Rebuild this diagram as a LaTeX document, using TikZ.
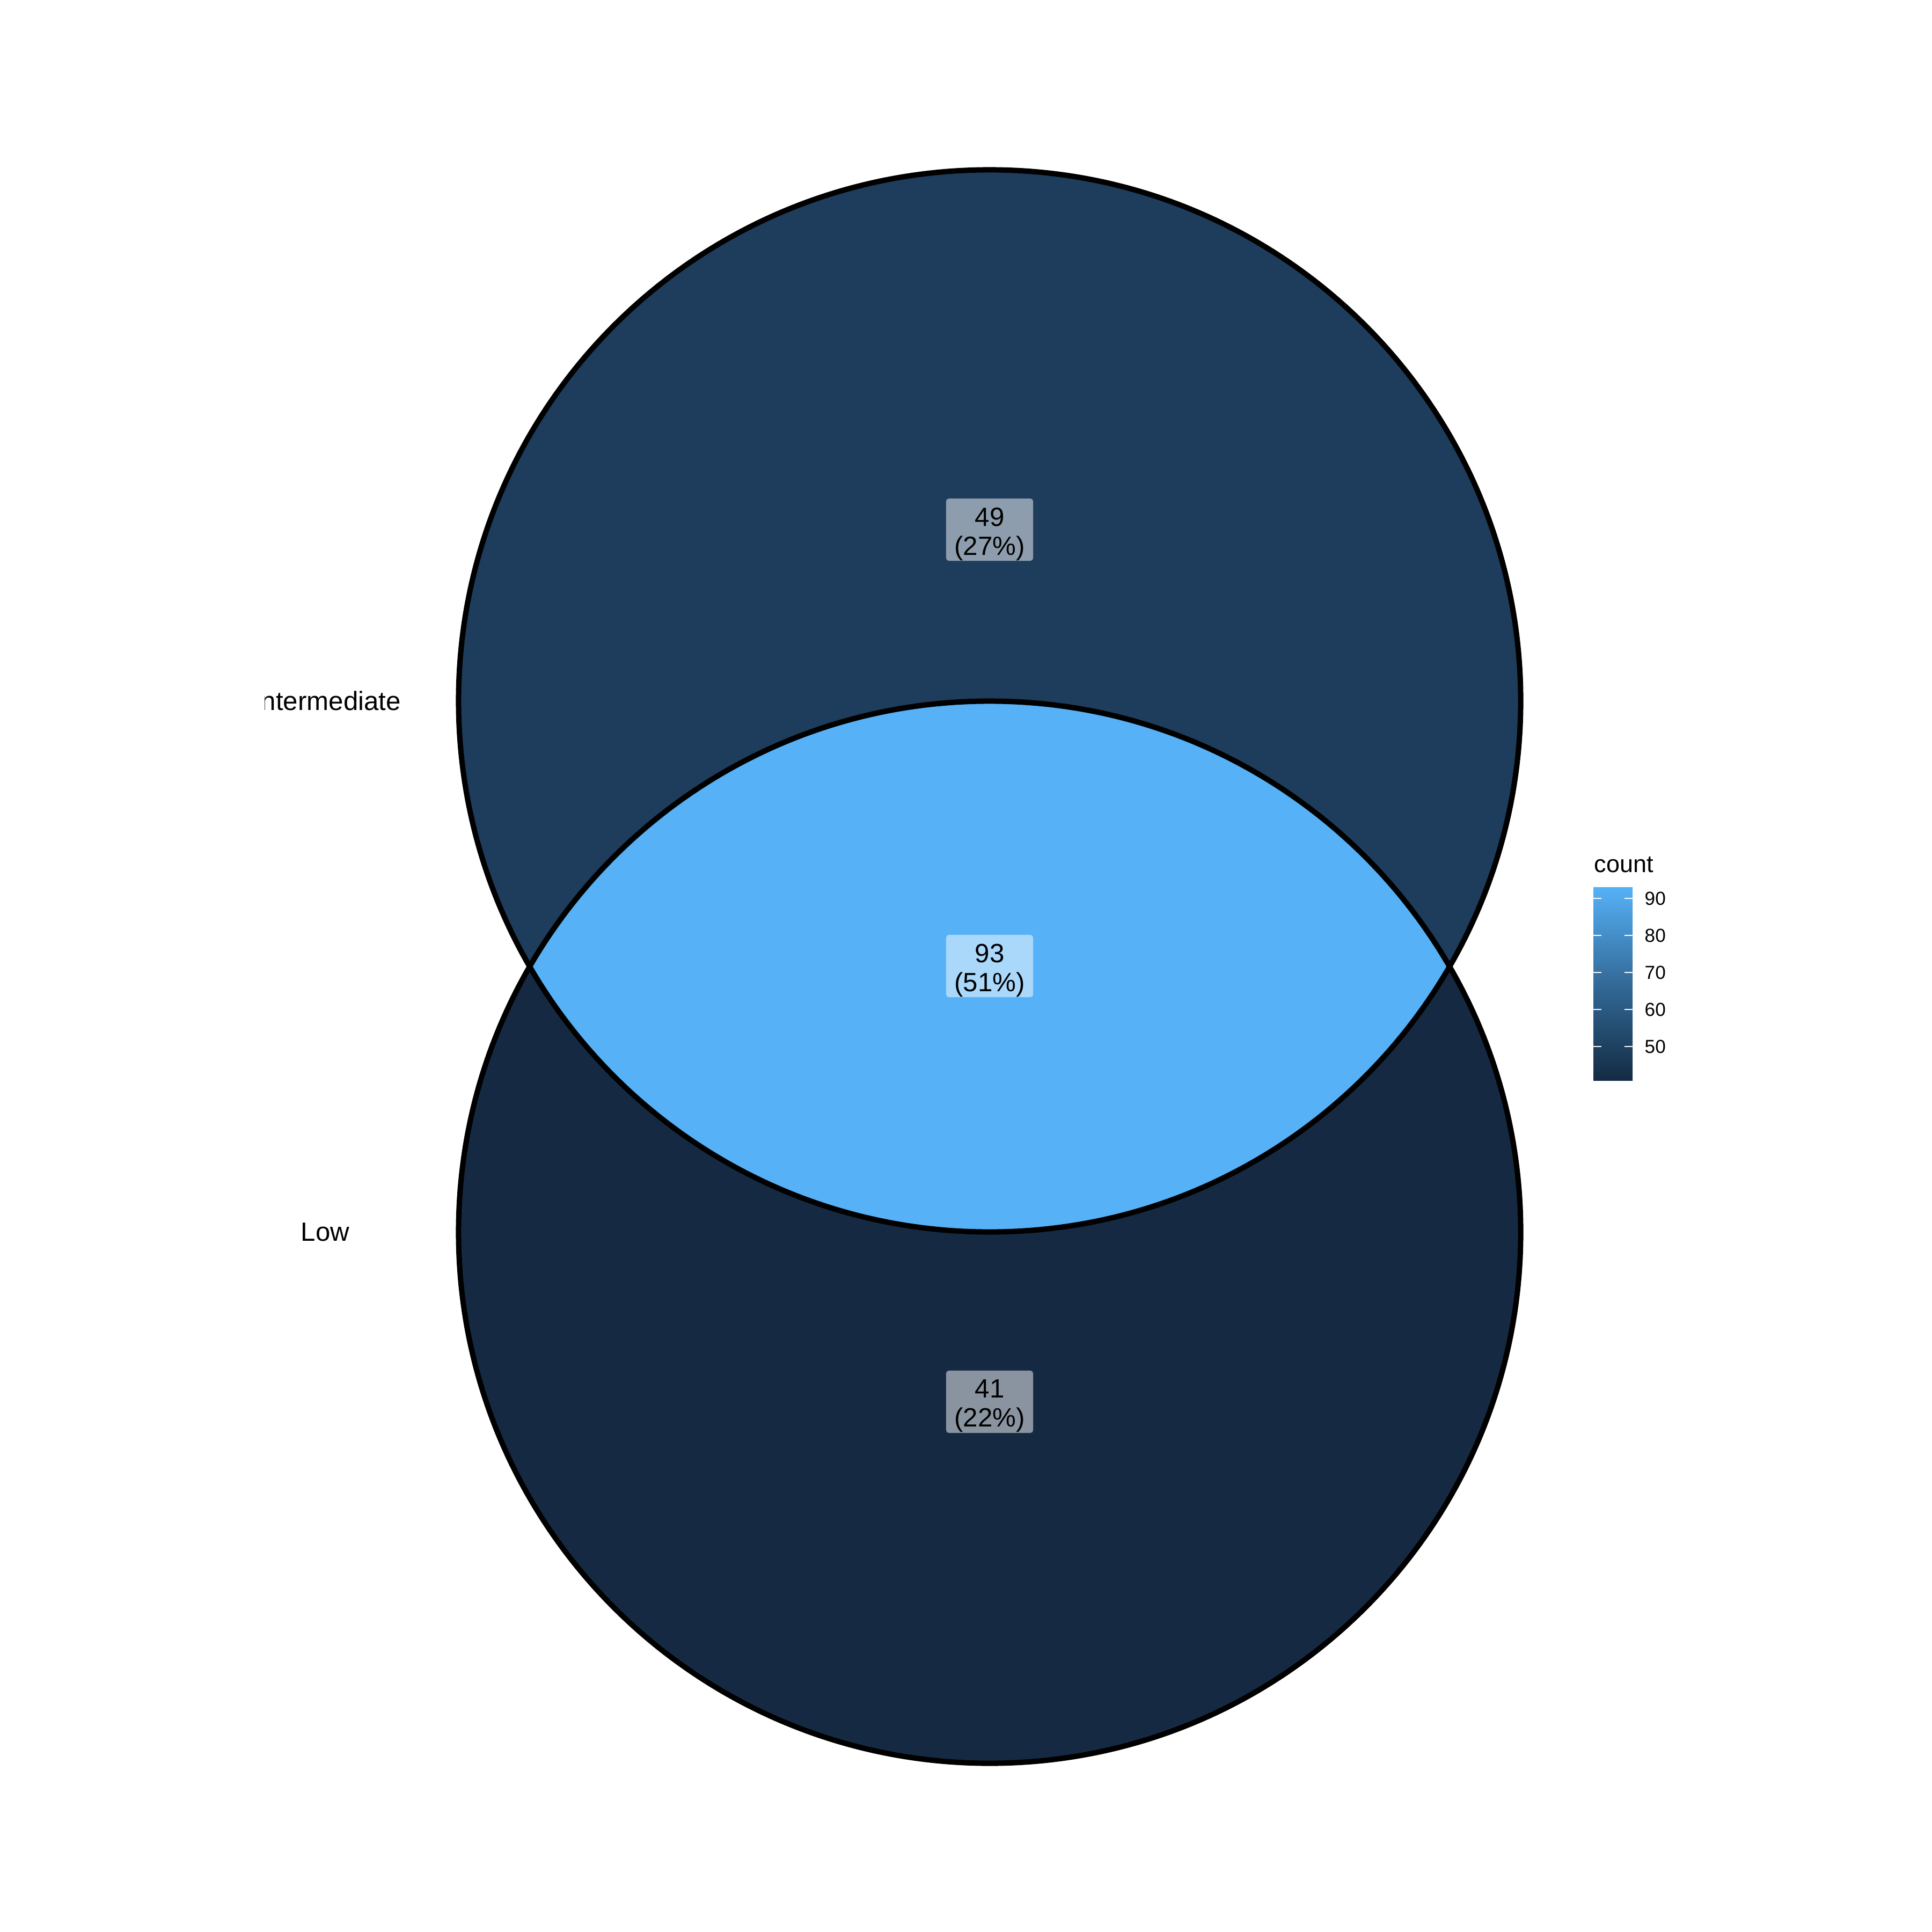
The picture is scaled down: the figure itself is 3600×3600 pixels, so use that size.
\documentclass[tikz,border=0pt]{standalone}
\usepackage{fontspec}
\setmainfont{Liberation Sans}
\definecolor{topfill}{HTML}{1E3C5B}
\definecolor{lowfill}{HTML}{152A42}
\definecolor{midfill}{HTML}{56B1F7}
\definecolor{gradlow}{HTML}{132B43}
\definecolor{gradmid}{HTML}{336A98}
\definecolor{gradhigh}{HTML}{56B1F7}
\tikzset{
  setedge/.style={draw=black, line width=0.1cm},
  countbox/.style={fill=white, fill opacity=0.5, rounded corners=0.05cm,
    inner sep=0pt, minimum width=1.62cm, minimum height=1.16cm},
  counttext/.style={inner sep=0pt, align=center, font=\fontsize{14}{15.4}\selectfont},
  setlabel/.style={font=\fontsize{14}{16}\selectfont, inner sep=0pt},
  ticklabel/.style={font=\fontsize{10}{12}\selectfont, anchor=west, inner sep=0pt},
  tickmark/.style={draw=white, line width=0.5pt}
}
\begin{document}
\begin{tikzpicture}[x=0.01cm, y=-0.01cm]
\path[fill=white, use as bounding box] (0,0) rectangle (3600,3600);
\coordinate (cI) at (1844,1306);
\coordinate (cL) at (1844,2296);
% fills
\fill[topfill] (cI) circle[radius=9.89cm];
\fill[lowfill] (cL) circle[radius=9.89cm];
\begin{scope}
  \clip (cI) circle[radius=9.89cm];
  \fill[midfill] (cL) circle[radius=9.89cm];
\end{scope}
% count labels
\node[countbox] (b49) at (1844,987) {};
\node[counttext, yshift=-0.08cm] (n49) at (b49.center) {49\\(27\%)};
\node[countbox] (b93) at (1844,1800) {};
\node[counttext, yshift=-0.08cm] (n93) at (b93.center) {93\\(51\%)};
\node[countbox] (b41) at (1844,2612) {};
\node[counttext, yshift=-0.08cm] (n41) at (b41.center) {41\\(22\%)};
% edges
\draw[setedge] (cI) circle[radius=9.89cm];
\draw[setedge] (cL) circle[radius=9.89cm];
% set labels
\begin{scope}
  \clip (493,0) rectangle (3600,3600);
  \node[setlabel] (lint) at (610,1306) {Intermediate};
  \node[setlabel] (llow) at (606,2296) {Low};
\end{scope}
% legend
\node[anchor=base west, inner sep=0pt, font=\fontsize{12.8}{15}\selectfont] (ltitle) at (2970,1625) {count};
\shade[top color=gradhigh, bottom color=gradlow, middle color=gradmid] (2969,1653) rectangle (3042,2013);
\foreach \v/\y in {90/1674,80/1743,70/1812,60/1881,50/1950}{
  \draw[tickmark] (2969,\y) -- (2984,\y);
  \draw[tickmark] (3027,\y) -- (3042,\y);
  \node[ticklabel] (t\v) at (3064,\y) {\v};
}
\end{tikzpicture}
\end{document}
